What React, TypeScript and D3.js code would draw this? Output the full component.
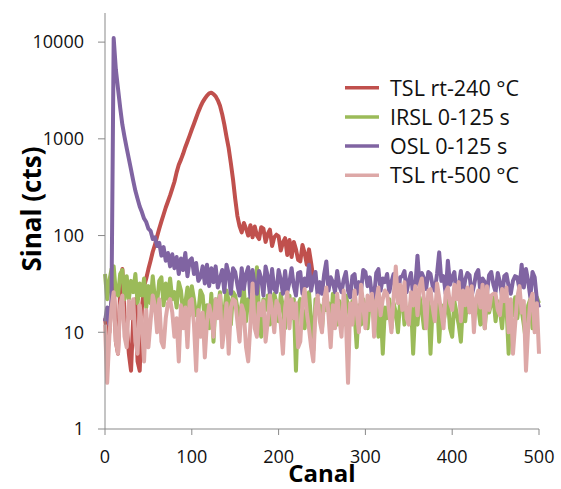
import React from "react";
import * as d3 from "d3";

// Channel grid (every 2.5 channels, 0..500)
const CHANNELS: number[] = d3.range(0, 500.01, 2.5);

// TSL rt-240 °C (channels 0..240)
const TSL240: number[] = [
  14, 9, 10, 20, 35, 8, 6, 28, 45, 15,
  12, 6, 4, 14, 22, 5, 4, 18, 30, 36,
  45, 55, 68, 80, 98, 118, 140, 165, 195, 225,
  260, 305, 360, 450, 540, 610, 700, 820, 940, 1080,
  1250, 1430, 1650, 1900, 2150, 2400, 2600, 2800, 2950, 3000,
  2900, 2750, 2500, 2200, 1800, 1400, 1050, 800, 560, 380,
  240, 160, 125, 108, 135, 118, 100, 128, 96, 124,
  100, 92, 122, 118, 86, 104, 115, 78, 96, 102,
  98, 70, 85, 94, 63, 90, 60, 86, 72, 56,
  54, 80, 66, 50, 72, 52, 36,
];

// IRSL 0-125 s
const IRSL: number[] = [
  40, 22, 34, 45, 48, 26, 24, 40, 44, 22,
  38, 22, 34, 26, 40, 20, 32, 24, 36, 18,
  30, 20, 38, 22, 20, 34, 37, 19, 32, 22,
  36, 22, 26, 18, 33, 27, 16, 20, 29, 15,
  30, 22, 15, 16, 27, 24, 13, 19, 11, 25,
  8, 22, 18, 26, 13, 16, 27, 21, 12, 26,
  24, 18, 12, 20, 28, 13, 22, 17, 26, 14,
  47, 15, 9, 22, 17, 24, 12, 18, 25, 20,
  13, 25, 18, 11, 21, 24, 14, 22, 4, 19,
  22, 17, 11, 18, 26, 13, 6.5, 22, 16, 19,
  11, 22, 17, 20, 11, 25, 16, 12, 21, 18,
  12, 24, 19, 13, 21, 16, 7, 19, 12, 22,
  17, 11, 21, 24, 13, 22, 9, 19, 6, 18,
  14, 22, 11, 20, 16, 10, 21, 23, 12, 18,
  15, 21, 6, 18, 12, 23, 17, 11, 20, 22,
  6, 19, 15, 23, 8, 19, 13, 17, 22, 11,
  9, 21, 16, 12, 8, 20, 13, 22, 17, 23,
  14, 22, 18, 12, 24, 11, 21, 16, 20, 23,
  13, 21, 17, 11, 22, 19, 6, 20, 15, 23,
  14, 21, 17, 12, 8, 19, 22, 11, 18, 23,
  20,
];

// OSL 0-125 s
const OSL: number[] = [
  13, 18, 12, 22, 11000, 5200, 3300, 2100, 1400, 1050,
  800, 620, 480, 370, 290, 240, 200, 175, 150, 138,
  118, 112, 92, 96, 78, 84, 62, 76, 55, 66,
  48, 64, 46, 60, 40, 58, 44, 66, 38, 55,
  58, 40, 52, 34, 37, 48, 32, 50, 30, 46,
  33, 48, 29, 36, 44, 26, 50, 40, 25, 46,
  42, 31, 24, 46, 28, 40, 47, 23, 44, 30,
  25, 43, 36, 24, 48, 38, 25, 45, 28, 26,
  44, 35, 25, 43, 26, 33, 46, 30, 24, 41,
  42, 25, 36, 30, 50, 27, 36, 42, 24, 33,
  25, 40, 54, 27, 37, 33, 26, 43, 30, 26,
  35, 42, 27, 23, 38, 40, 25, 33, 27, 44,
  42, 30, 37, 24, 23, 41, 45, 27, 36, 33,
  40, 26, 33, 40, 28, 23, 37, 38, 43, 26,
  34, 41, 24, 30, 62, 30, 41, 36, 28, 42,
  40, 30, 27, 40, 67, 34, 38, 25, 55, 31,
  37, 42, 24, 30, 43, 25, 35, 41, 39, 24,
  30, 40, 44, 26, 36, 33, 25, 39, 42, 31,
  26, 41, 33, 23, 38, 40, 30, 25, 34, 38,
  37, 28, 50, 29, 45, 34, 23, 42, 37, 22,
  18,
];

// TSL rt-500 °C
const TSL500: number[] = [
  12, 3, 9, 18, 26, 8, 6, 19, 24, 9,
  7, 21, 14, 22, 8, 6, 19, 12, 5, 17,
  7, 13, 24, 19, 10, 22, 8, 7, 14, 20,
  22, 16, 9, 14, 5, 19, 11, 18, 7, 21,
  22, 12, 4, 17, 9, 16, 5.5, 13, 19, 15,
  9, 22, 14, 24, 7, 11, 20, 6, 18, 22,
  21, 13, 8, 19, 16, 7, 5, 12, 32, 11,
  9, 20, 15, 21, 8, 13, 24, 17, 10, 21,
  19, 12, 6, 18, 26, 11, 22, 14, 20, 7,
  8, 20, 28, 16, 11, 7, 5, 17, 24, 13,
  10, 22, 29, 15, 7, 19, 11, 25, 14, 9,
  27, 14, 3, 20, 12, 27, 16, 10, 31, 19,
  11, 24, 17, 25, 9, 21, 29, 15, 22, 27,
  25, 16, 10, 23, 48, 20, 31, 17, 33, 14,
  12, 26, 19, 30, 15, 30, 36, 22, 11, 27,
  28, 18, 13, 32, 23, 16, 11, 26, 29, 20,
  17, 31, 22, 33, 13, 27, 19, 29, 16, 30,
  10, 22, 27, 18, 31, 11, 30, 17, 24, 25,
  25, 17, 15, 28, 21, 29, 10, 22, 6, 12,
  23, 30, 16, 21, 4, 11, 21, 25, 10, 20,
  6,
];

const SERIES_NAMES = ["TSL rt-240 °C", "IRSL 0-125 s", "OSL 0-125 s", "TSL rt-500 °C"];
const SERIES_VALUES = [TSL240, IRSL, OSL, TSL500];
const SERIES_COLORS = ["#C0504D", "#9BBB59", "#8064A2", "#DDA8A7"];

const X_TICKS = [0, 100, 200, 300, 400, 500];
const Y_TICKS = [1, 10, 100, 1000, 10000];

const W = 561;
const H = 489;
const FONT = "'Open Sans', 'Noto Sans', sans-serif";
const AXIS = "#898989";

export default function App() {
  const x = d3.scaleLinear().domain([0, 500]).range([105, 539]);
  const y = d3.scaleLog().domain([1, 20000]).range([429, 13]);

  const line = d3
    .line<[number, number]>()
    .x((d) => x(d[0]))
    .y((d) => y(d[1]));

  return (
    <svg
      width={W}
      height={H}
      style={{ position: "absolute", left: 0, top: 0, background: "#fff" }}
      fontFamily={FONT}
    >
      <rect width={W} height={H} fill="#fff" />

      {/* series */}
      {SERIES_VALUES.map((vals, i) => (
        <path
          key={SERIES_NAMES[i]}
          d={line(vals.map((v, j) => [CHANNELS[j], v] as [number, number])) || ""}
          fill="none"
          stroke={SERIES_COLORS[i]}
          strokeWidth={4}
          strokeLinejoin="round"
        />
      ))}

      {/* y axis */}
      <line x1={x(0)} x2={x(0)} y1={y.range()[1]} y2={y(1)} stroke={AXIS} strokeWidth={1} />
      {Y_TICKS.map((t) => (
        <g key={t} transform={`translate(0,${y(t)})`}>
          <line x1={x(0) - 7} x2={x(0)} stroke={AXIS} strokeWidth={1} />
          <text x={84} dy="0.35em" textAnchor="end" fontSize={18} fill="#111">
            {t}
          </text>
        </g>
      ))}

      {/* x axis */}
      <line x1={x(0)} x2={x(500)} y1={y(1)} y2={y(1)} stroke={AXIS} strokeWidth={1} />
      {X_TICKS.map((t) => (
        <g key={t} transform={`translate(${x(t)},0)`}>
          <line y1={y(1)} y2={y(1) + 6} stroke={AXIS} strokeWidth={1} />
          <text y={463} textAnchor="middle" fontSize={18} fill="#111">
            {t}
          </text>
        </g>
      ))}

      {/* axis titles */}
      <text x={322} y={482} textAnchor="middle" fontSize={24} fontWeight="bold" fill="#000">
        Canal
      </text>
      <text
        transform="translate(41,209) rotate(-90)"
        textAnchor="middle"
        fontSize={26}
        fontWeight="bold"
        fill="#000"
      >
        Sinal (cts)
      </text>

      {/* legend */}
      {SERIES_NAMES.map((name, i) => {
        const ly = 87.7 + i * 29.2;
        return (
          <g key={name}>
            <line x1={345} x2={379} y1={ly} y2={ly} stroke={SERIES_COLORS[i]} strokeWidth={3.5} />
            <text x={390} y={ly + 8} fontSize={21.5} fill="#111">
              {name}
            </text>
          </g>
        );
      })}
    </svg>
  );
}
